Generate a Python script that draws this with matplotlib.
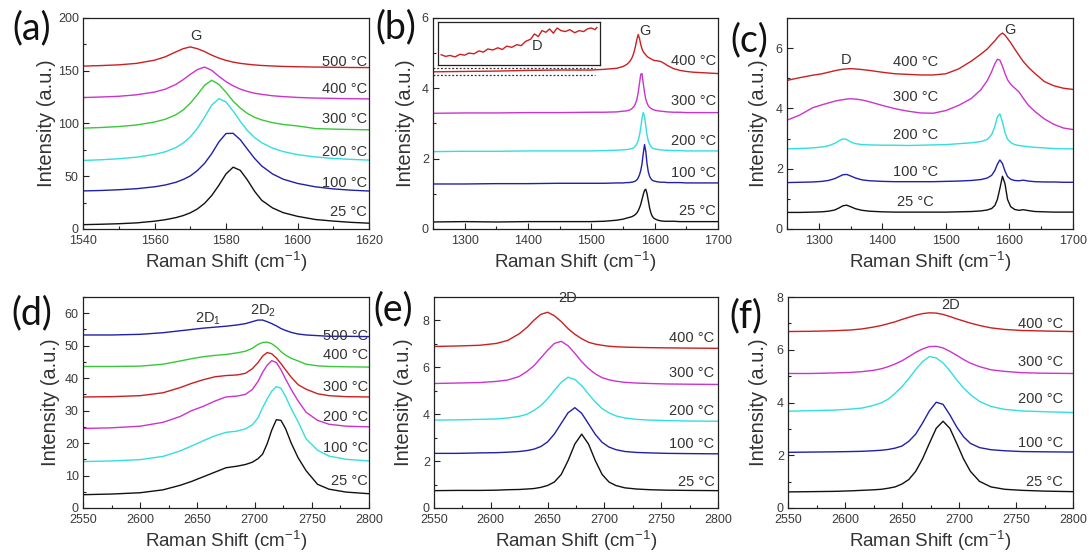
import matplotlib
matplotlib.use("Agg")
import matplotlib.pyplot as plt
from matplotlib.ticker import MultipleLocator

plt.rcParams["font.family"] = ["Liberation Sans", "DejaVu Sans"]
plt.rcParams["mathtext.fontset"] = "custom"
plt.rcParams["mathtext.rm"] = "Liberation Sans"

# ---------------- (a) G band, 1540-1620 cm-1 ----------------
shift_a = [1540, 1545, 1550, 1555, 1560, 1563, 1566, 1568, 1570, 1572, 1574, 1576, 1578,
           1580, 1582, 1584, 1586, 1588, 1590, 1593, 1596, 1600, 1605, 1610, 1615, 1620]
a_25C = [4.1, 4.5, 5.0, 5.8, 7.4, 8.8, 10.8, 12.7, 15.3, 19.0, 24.3, 31.7, 41.4,
         52.2, 58.6, 55.6, 46.4, 35.7, 27.2, 20.0, 15.5, 12.0, 9.0, 7.5, 6.3, 5.5]
a_100C = [36.1, 36.5, 37.2, 38.2, 40.0, 41.7, 44.3, 46.9, 50.3, 55.4, 62.2, 71.4, 82.5,
          90.5, 90.7, 84.6, 75.6, 66.9, 59.7, 52.2, 47.2, 43.2, 40.0, 38.0, 36.8, 36.0]
a_200C = [65.0, 65.6, 66.6, 68.1, 70.7, 73.2, 77.2, 81.4, 87.2, 95.4, 106.0, 117.4, 123.6,
          120.4, 111.8, 102.0, 93.2, 86.7, 81.8, 76.7, 73.4, 70.5, 68.3, 66.9, 66.0, 65.3]
a_300C = [95.6, 96.2, 97.1, 98.6, 101.4, 104.0, 108.3, 112.8, 119.2, 127.3, 136.2, 141.0, 137.1,
          129.6, 121.2, 114.6, 109.5, 105.9, 103.4, 100.8, 99.1, 97.7, 95.2, 94.7, 94.3, 94.0]
a_400C = [124.6, 125.1, 125.8, 127.2, 129.8, 132.5, 137.1, 141.5, 146.5, 151.1, 153.5, 150.4, 144.7,
          139.7, 135.7, 132.6, 130.4, 128.7, 127.6, 126.3, 125.5, 124.7, 124.1, 123.8, 123.5, 123.3]
a_500C = [154.4, 154.9, 155.6, 157.0, 160.0, 163.2, 167.9, 170.9, 172.6, 170.9, 168.2, 164.8, 162.0,
          159.8, 158.2, 157.0, 156.2, 155.5, 155.0, 154.5, 154.1, 153.8, 153.5, 153.3, 153.1, 153.0]
temps_a = ["25 °C", "100 °C", "200 °C", "300 °C", "400 °C", "500 °C"]

# ---------------- (b) 1250-1700 cm-1 ----------------
shift_b = [1250, 1300, 1350, 1400, 1450, 1500, 1520, 1540, 1550, 1556,
           1560, 1562, 1564, 1566, 1568, 1570, 1572, 1574, 1576, 1578, 1580,
           1582, 1584, 1586, 1588, 1590, 1592, 1594, 1596, 1598, 1600,
           1605, 1610, 1615, 1620, 1630, 1640, 1650, 1660, 1680, 1700]
b_25C = [0.20, 0.21, 0.20, 0.21, 0.21, 0.21, 0.22, 0.25, 0.28, 0.31,
         0.33, 0.34, 0.35, 0.37, 0.39, 0.42, 0.46, 0.52, 0.60, 0.70, 0.84,
         0.98, 1.10, 1.13, 1.00, 0.80, 0.60, 0.46, 0.37, 0.32, 0.29,
         0.25, 0.23, 0.22, 0.22, 0.22, 0.21, 0.21, 0.21, 0.21, 0.21]
b_100C = [1.28, 1.28, 1.29, 1.29, 1.30, 1.30, 1.30, 1.31, 1.31, 1.32,
          1.32, 1.33, 1.33, 1.34, 1.35, 1.37, 1.40, 1.45, 1.54, 1.66, 1.85,
          2.15, 2.40, 2.20, 1.85, 1.62, 1.50, 1.43, 1.39, 1.37, 1.36,
          1.34, 1.33, 1.33, 1.32, 1.32, 1.32, 1.31, 1.31, 1.31, 1.31]
b_200C = [2.20, 2.21, 2.21, 2.22, 2.22, 2.22, 2.23, 2.24, 2.25, 2.26,
          2.27, 2.28, 2.29, 2.30, 2.33, 2.37, 2.43, 2.52, 2.66, 2.88, 3.15,
          3.31, 3.20, 2.92, 2.66, 2.50, 2.41, 2.35, 2.31, 2.29, 2.28,
          2.26, 2.25, 2.24, 2.24, 2.23, 2.23, 2.22, 2.22, 2.22, 2.22]
b_300C = [3.29, 3.30, 3.30, 3.31, 3.31, 3.32, 3.32, 3.33, 3.35, 3.36,
          3.38, 3.40, 3.42, 3.46, 3.50, 3.58, 3.69, 3.88, 4.14, 4.40, 4.42,
          4.14, 3.88, 3.69, 3.58, 3.50, 3.46, 3.43, 3.41, 3.39, 3.38,
          3.36, 3.35, 3.34, 3.33, 3.32, 3.32, 3.31, 3.31, 3.31, 3.31]
b_400C = [4.47, 4.48, 4.49, 4.51, 4.52, 4.52, 4.54, 4.57, 4.62, 4.68,
          4.75, 4.80, 4.86, 4.95, 5.07, 5.22, 5.40, 5.53, 5.42, 5.25, 5.12,
          5.04, 4.99, 4.95, 4.91, 4.88, 4.86, 4.84, 4.82, 4.80, 4.79,
          4.78, 4.76, 4.71, 4.65, 4.56, 4.51, 4.48, 4.46, 4.44, 4.42]
temps_b = ["25 °C", "100 °C", "200 °C", "300 °C", "400 °C"]

# magnified D region of the 400 °C spectrum (inset)
inset_shift = [1258, 1265, 1272, 1280, 1288, 1295, 1302, 1310, 1318, 1325, 1332, 1340,
               1348, 1355, 1362, 1370, 1378, 1385, 1392, 1400, 1406, 1412, 1418, 1424,
               1430, 1436, 1442, 1448, 1455, 1462, 1470, 1477, 1484, 1490, 1496, 1502, 1505]
inset_400C = [4.443, 4.436, 4.440, 4.434, 4.445, 4.441, 4.450, 4.447, 4.459, 4.454, 4.467, 4.463,
              4.472, 4.465, 4.479, 4.474, 4.485, 4.481, 4.499, 4.508, 4.530, 4.519, 4.544, 4.537,
              4.551, 4.533, 4.555, 4.544, 4.540, 4.548, 4.535, 4.544, 4.540, 4.551, 4.555, 4.548, 4.557]

# ---------------- (c) D and G bands ----------------
shift_c = [1250, 1270, 1290, 1305, 1315, 1325, 1332, 1338, 1344, 1350, 1358, 1368, 1380,
           1400, 1420, 1440, 1460, 1480, 1500, 1520, 1540, 1555, 1565, 1572, 1577, 1581,
           1585, 1589, 1593, 1597, 1602, 1608, 1615, 1622, 1630, 1640, 1655, 1670, 1685, 1700]
c_25C = [0.55, 0.55, 0.56, 0.57, 0.59, 0.63, 0.70, 0.77, 0.79, 0.74, 0.67, 0.62, 0.59,
         0.57, 0.56, 0.56, 0.56, 0.56, 0.56, 0.57, 0.58, 0.60, 0.63, 0.68, 0.78, 0.98,
         1.35, 1.75, 1.50, 0.98, 0.74, 0.65, 0.62, 0.64, 0.61, 0.58, 0.57, 0.56, 0.56, 0.56]
c_100C = [1.54, 1.55, 1.56, 1.58, 1.61, 1.67, 1.74, 1.80, 1.81, 1.76, 1.69, 1.63, 1.60,
          1.58, 1.57, 1.57, 1.57, 1.57, 1.58, 1.59, 1.61, 1.64, 1.69, 1.78, 1.94, 2.15,
          2.29, 2.17, 1.92, 1.74, 1.65, 1.61, 1.60, 1.62, 1.59, 1.57, 1.56, 1.56, 1.55, 1.55]
c_200C = [2.66, 2.67, 2.69, 2.72, 2.76, 2.84, 2.93, 2.99, 2.97, 2.89, 2.83, 2.80, 2.79,
          2.78, 2.78, 2.77, 2.78, 2.79, 2.80, 2.83, 2.86, 2.90, 2.97, 3.13, 3.40, 3.72,
          3.82, 3.55, 3.20, 2.98, 2.87, 2.80, 2.77, 2.75, 2.73, 2.71, 2.69, 2.67, 2.66, 2.66]
c_300C = [3.61, 3.78, 4.02, 4.12, 4.18, 4.24, 4.27, 4.29, 4.31, 4.32, 4.31, 4.28, 4.22,
          4.10, 3.99, 3.91, 3.85, 3.84, 3.93, 4.10, 4.33, 4.62, 4.92, 5.22, 5.48, 5.63,
          5.60, 5.40, 5.16, 4.95, 4.80, 4.68, 4.55, 4.33, 4.10, 3.90, 3.65, 3.47, 3.35, 3.30]
c_400C = [4.93, 5.02, 5.10, 5.15, 5.20, 5.25, 5.28, 5.30, 5.31, 5.32, 5.31, 5.29, 5.26,
          5.20, 5.15, 5.13, 5.11, 5.11, 5.15, 5.31, 5.57, 5.80, 5.97, 6.13, 6.24, 6.35,
          6.44, 6.50, 6.43, 6.32, 6.18, 5.98, 5.76, 5.55, 5.36, 5.16, 4.89, 4.75, 4.67, 4.63]
temps_c = ["25 °C", "100 °C", "200 °C", "300 °C", "400 °C"]

# ---------------- (d) 2D band, split 2D1 / 2D2 ----------------
shift_d = [2550, 2575, 2600, 2620, 2635, 2645, 2655, 2665, 2675, 2685, 2692, 2698, 2703,
           2707, 2711, 2715, 2719, 2723, 2727, 2732, 2738, 2745, 2755, 2765, 2780, 2800]
d_25C = [4.1, 4.3, 4.7, 5.6, 7.0, 8.2, 9.6, 11.0, 12.4, 12.9, 13.4, 14.1, 15.2,
         16.6, 19.8, 24.0, 27.2, 27.0, 24.5, 20.0, 15.5, 11.5, 7.3, 5.8, 4.9, 4.4]
d_100C = [14.3, 14.5, 14.9, 15.9, 17.6, 19.1, 20.7, 22.2, 23.3, 23.7, 24.4, 25.6, 27.8,
          30.9, 33.6, 36.0, 37.4, 36.9, 34.4, 30.6, 26.6, 21.3, 17.8, 16.0, 15.0, 14.5]
d_200C = [24.5, 24.7, 25.2, 26.4, 28.2, 30.0, 31.3, 32.9, 34.2, 34.5, 35.0, 36.5, 39.0,
          41.8, 44.0, 45.4, 44.8, 42.6, 39.8, 36.5, 33.0, 29.5, 27.0, 25.8, 25.2, 25.0]
d_300C = [34.2, 34.3, 34.6, 35.5, 37.1, 38.4, 39.5, 40.4, 40.8, 41.0, 41.5, 42.9, 44.8,
          46.8, 47.9, 47.5, 46.2, 44.5, 42.6, 40.3, 38.0, 36.6, 35.2, 34.6, 34.3, 34.2]
d_400C = [43.6, 43.6, 43.7, 44.3, 45.3, 46.0, 46.6, 47.0, 47.3, 47.8, 48.3, 49.2, 50.4,
          51.0, 51.1, 50.6, 49.6, 48.2, 47.1, 46.1, 45.3, 44.3, 43.8, 43.6, 43.5, 43.4]
d_500C = [53.3, 53.3, 53.5, 54.0, 54.6, 55.0, 55.4, 55.7, 56.0, 56.4, 56.8, 57.4, 57.9,
          57.9, 57.4, 56.8, 56.1, 55.3, 54.7, 54.1, 53.6, 53.3, 53.1, 52.9, 52.9, 52.8]
temps_d = ["25 °C", "100 °C", "200 °C", "300 °C", "400 °C", "500 °C"]

# ---------------- (e), (f) single 2D band ----------------
shift_ef = [2550, 2570, 2590, 2605, 2615, 2625, 2632, 2638, 2644, 2650, 2656, 2662, 2668,
            2674, 2680, 2686, 2692, 2698, 2704, 2710, 2718, 2728, 2740, 2755, 2775, 2800]
e_25C = [0.74, 0.75, 0.75, 0.76, 0.78, 0.79, 0.81, 0.83, 0.88, 0.96, 1.11, 1.43, 2.02,
         2.73, 3.15, 2.73, 2.02, 1.43, 1.11, 0.96, 0.86, 0.81, 0.78, 0.76, 0.75, 0.74]
e_100C = [2.33, 2.33, 2.35, 2.36, 2.38, 2.41, 2.45, 2.51, 2.62, 2.82, 3.16, 3.61, 4.06,
          4.28, 4.04, 3.59, 3.14, 2.80, 2.60, 2.49, 2.41, 2.37, 2.35, 2.33, 2.32, 2.31]
e_200C = [3.75, 3.76, 3.78, 3.80, 3.84, 3.91, 4.00, 4.16, 4.37, 4.66, 5.02, 5.36, 5.58,
          5.48, 5.22, 4.86, 4.52, 4.24, 4.06, 3.93, 3.84, 3.78, 3.75, 3.73, 3.71, 3.70]
e_300C = [5.31, 5.33, 5.35, 5.40, 5.46, 5.61, 5.83, 6.07, 6.40, 6.73, 7.02, 7.11, 6.92,
          6.60, 6.24, 5.95, 5.72, 5.56, 5.47, 5.41, 5.36, 5.33, 5.31, 5.29, 5.28, 5.27]
e_400C = [6.89, 6.91, 6.94, 7.02, 7.15, 7.43, 7.71, 8.01, 8.26, 8.35, 8.20, 7.95, 7.65,
          7.41, 7.22, 7.07, 6.99, 6.94, 6.90, 6.88, 6.86, 6.85, 6.84, 6.83, 6.82, 6.81]
f_25C = [0.61, 0.62, 0.63, 0.65, 0.67, 0.69, 0.71, 0.75, 0.80, 0.91, 1.08, 1.39, 1.86,
         2.45, 3.02, 3.29, 3.02, 2.45, 1.86, 1.39, 1.01, 0.80, 0.71, 0.67, 0.64, 0.62]
f_100C = [2.11, 2.12, 2.13, 2.14, 2.15, 2.17, 2.19, 2.22, 2.27, 2.35, 2.53, 2.80, 3.22,
          3.68, 4.01, 3.93, 3.53, 3.07, 2.70, 2.45, 2.29, 2.21, 2.17, 2.14, 2.13, 2.12]
f_200C = [3.67, 3.69, 3.71, 3.75, 3.79, 3.89, 3.99, 4.13, 4.35, 4.60, 4.91, 5.25, 5.55,
          5.74, 5.69, 5.50, 5.20, 4.86, 4.55, 4.30, 4.04, 3.85, 3.74, 3.68, 3.65, 3.62]
f_300C = [5.10, 5.10, 5.12, 5.14, 5.17, 5.22, 5.28, 5.36, 5.46, 5.58, 5.74, 5.90, 6.03,
          6.12, 6.13, 6.07, 5.94, 5.79, 5.63, 5.49, 5.36, 5.24, 5.18, 5.13, 5.11, 5.10]
f_400C = [6.69, 6.70, 6.72, 6.75, 6.79, 6.86, 6.92, 6.99, 7.06, 7.15, 7.23, 7.31, 7.37,
          7.40, 7.39, 7.34, 7.26, 7.17, 7.09, 7.01, 6.92, 6.83, 6.77, 6.73, 6.71, 6.69]
temps_ef = ["25 °C", "100 °C", "200 °C", "300 °C", "400 °C"]

# ---------------- styling ----------------
BLACK = "#111111"
BLUE = "#2020a8"
CYAN = "#33dede"
GREEN = "#38c838"
MAGENTA = "#cc33cc"
RED = "#cc1f1f"
TEXT = "#333333"

W, H = 1090, 558
fig = plt.figure(figsize=(W / 100, H / 100), dpi=100)


def panel(left, top, right, bottom):
    return fig.add_axes([left / W, 1 - bottom / H, (right - left) / W, (bottom - top) / H])


def style(ax, xlim, ylim, xmaj, xmin, ymaj, ymin, ylab_x):
    ax.set_xlim(*xlim)
    ax.set_ylim(*ylim)
    ax.xaxis.set_major_locator(MultipleLocator(xmaj))
    ax.xaxis.set_minor_locator(MultipleLocator(xmin))
    ax.yaxis.set_major_locator(MultipleLocator(ymaj))
    ax.yaxis.set_minor_locator(MultipleLocator(ymin))
    ax.tick_params(which="both", direction="in", top=False, right=False,
                   width=0.8, colors="#222222", labelcolor="#3a3a3a", labelsize=9)
    ax.tick_params(which="major", length=4)
    ax.tick_params(axis="x", which="major", pad=4.5)
    ax.tick_params(axis="y", which="major", pad=3)
    ax.tick_params(which="minor", length=2.5)
    for sp in ax.spines.values():
        sp.set_linewidth(0.9)
        sp.set_color("#222222")
    ax.set_xlabel("Raman Shift (cm$^{\\mathregular{-1}}$)", fontsize=13.5, color=TEXT)
    ax.set_ylabel("Intensity (a.u.)", fontsize=14.5, color=TEXT)
    ax.xaxis.set_label_coords(0.5, -0.095)
    ax.yaxis.set_label_coords(ylab_x, 0.5)


def curves(ax, x, series, colors):
    for y, c in zip(series, colors):
        ax.plot(x, y, color=c, lw=1.0)


def temp_labels(ax, labels, x, ys, ha="right"):
    for lab, y in zip(labels, ys):
        ax.text(x, y, lab, ha=ha, va="center", fontsize=10.5, color=TEXT)


def tag(xpx, ypx, s):
    fig.text(xpx / W, 1 - ypx / H, s, fontsize=27, family=["Lato", "DejaVu Sans"],
             ha="center", va="center", color="#111111")


# (a)
ax = panel(83, 18, 369, 229)
curves(ax, shift_a, [a_25C, a_100C, a_200C, a_300C, a_400C, a_500C],
       [BLACK, BLUE, CYAN, GREEN, MAGENTA, RED])
style(ax, (1540, 1620), (0, 200), 20, 10, 50, 25, -0.094)
temp_labels(ax, temps_a, 1619.5, [16, 43.5, 73, 104, 133, 158.4])
ax.text(1571.5, 183, "G", ha="center", va="center", fontsize=10.5, color=TEXT)
tag(32, 28, "(a)")

# (b)
ax = panel(433, 18, 718, 229)
curves(ax, shift_b, [b_25C, b_100C, b_200C, b_300C, b_400C],
       [BLACK, BLUE, CYAN, MAGENTA, RED])
style(ax, (1250, 1700), (0, 6), 100, 50, 2, 1, -0.063)
temp_labels(ax, temps_b, 1697, [0.52, 1.59, 2.49, 3.63, 4.77])
ax.text(1584, 5.62, "G", ha="center", va="center", fontsize=10.5, color=TEXT)
for yv in (4.59, 4.37):
    ax.plot([1250, 1505], [yv, yv], color="#333333", lw=0.9, ls=(0, (1.5, 1.5)))
tag(396, 27, "(b)")

ins = fig.add_axes([438 / W, 1 - 65 / H, (600 - 438) / W, (65 - 22) / H])
ins.plot(inset_shift, inset_400C, color=RED, lw=1.0)
ins.set_xlim(1253, 1510)
ins.set_ylim(4.40, 4.58)
ins.set_xticks([])
ins.set_yticks([])
for sp in ins.spines.values():
    sp.set_linewidth(0.9)
    sp.set_color("#222222")
ins.text(0.61, 0.45, "D", transform=ins.transAxes, ha="center", va="center",
         fontsize=10.5, color=TEXT)

# (c)
ax = panel(787, 18, 1073, 229)
curves(ax, shift_c, [c_25C, c_100C, c_200C, c_300C, c_400C],
       [BLACK, BLUE, CYAN, MAGENTA, RED])
style(ax, (1250, 1700), (0, 7), 100, 50, 2, 1, -0.066)
temp_labels(ax, temps_c, 1452, [0.91, 1.9, 3.12, 4.38, 5.54], ha="center")
ax.text(1343, 5.62, "D", ha="center", va="center", fontsize=10.5, color=TEXT)
ax.text(1601, 6.6, "G", ha="center", va="center", fontsize=10.5, color=TEXT)
tag(749, 40, "(c)")

# (d)
ax = panel(83, 297, 369, 508)
curves(ax, shift_d, [d_25C, d_100C, d_200C, d_300C, d_400C, d_500C],
       [BLACK, CYAN, MAGENTA, RED, GREEN, BLUE])
style(ax, (2550, 2800), (0, 65), 50, 25, 10, 5, -0.08)
temp_labels(ax, temps_d, 2799, [8.2, 18.4, 28, 37.2, 47, 53.1])
ax.text(2659, 58.2, "2D$_{\\mathregular{1}}$", ha="center", va="center", fontsize=10.5, color=TEXT)
ax.text(2707, 60.7, "2D$_{\\mathregular{2}}$", ha="center", va="center", fontsize=10.5, color=TEXT)
tag(32, 313, "(d)")

# (e)
ax = panel(434, 297, 718, 508)
curves(ax, shift_ef, [e_25C, e_100C, e_200C, e_300C, e_400C],
       [BLACK, BLUE, CYAN, MAGENTA, RED])
style(ax, (2550, 2800), (0, 9), 50, 25, 2, 1, -0.074)
temp_labels(ax, temps_ef, 2797, [1.13, 2.75, 4.12, 5.74, 7.26])
ax.text(2668, 8.95, "2D", ha="center", va="center", fontsize=10.5, color=TEXT, clip_on=False)
tag(393, 309, "(e)")

# (f)
ax = panel(788, 297, 1073, 508)
curves(ax, shift_ef, [f_25C, f_100C, f_200C, f_300C, f_400C],
       [BLACK, BLUE, CYAN, MAGENTA, RED])
style(ax, (2550, 2800), (0, 8), 50, 25, 2, 1, -0.07)
temp_labels(ax, temps_ef, 2791, [1.0, 2.46, 4.13, 5.54, 6.99])
ax.text(2693, 7.68, "2D", ha="center", va="center", fontsize=10.5, color=TEXT)
tag(746, 316, "(f)")

fig.savefig("out.png", dpi=100)
